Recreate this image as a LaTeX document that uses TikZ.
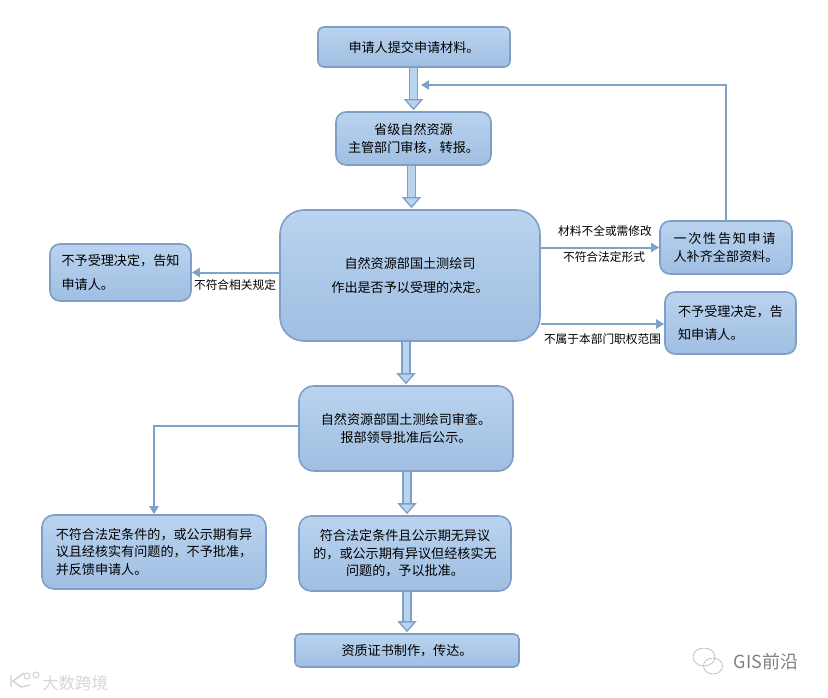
\documentclass[tikz,border=0pt]{standalone}
\usepackage{fontspec}
\setmainfont{Noto Sans CJK SC}
\usetikzlibrary{arrows.meta,positioning,calc}
\definecolor{boxline}{HTML}{7F9FC6}
\definecolor{boxtop}{HTML}{BAD3EF}
\definecolor{boxbot}{HTML}{9FBEE2}
\definecolor{arrline}{HTML}{7EA3CB}
\tikzset{
  flowbox/.style={draw=boxline,line width=1.6pt,top color=boxtop,bottom color=boxbot,inner sep=0pt,
    font=\fontsize{13.1}{17.5}\selectfont,align=center},
  thinarr/.style={arrline,line width=2pt,-{Triangle[length=8pt,width=9pt]}},
  blockarr/.style={line width=1.5pt,draw=boxline,double=boxtop,double distance=6.4pt,
    -{Triangle[length=11pt,width=19pt,fill=boxtop,line width=1.3pt]},shorten >=1pt},
  lbl/.style={font=\fontsize{11.7}{14}\selectfont,inner sep=0pt}
}
\begin{document}
\begin{tikzpicture}[x=1pt,y=-1pt]
\useasboundingbox (0,0) rectangle (828,698);
\node[flowbox,rounded corners=6pt,minimum width=192pt,minimum height=40pt] (apply) at (414,47) {申请人提交申请材料。};
\node[flowbox,rounded corners=10pt,minimum width=155pt,minimum height=53pt] (province) at (413.5,138.5) {省级自然资源\\主管部门审核，转报。};
\node[flowbox,rounded corners=24pt,minimum width=260pt,minimum height=131pt] (accept) at (410,275.5) {自然资源部国土测绘司\\[6pt]作出是否予以受理的决定。};
\node[flowbox,rounded corners=10pt,minimum width=141pt,minimum height=57pt,align=left] (rejectl) at (120.5,272.5) {不予受理决定，告知\\[6pt]申请人。};
\node[flowbox,rounded corners=10pt,minimum width=132pt,minimum height=53pt,align=left] (notify) at (726,247.5) {{\addfontfeature{LetterSpace=13}一次性告知申请}\\人补齐全部资料。};
\node[flowbox,rounded corners=10pt,minimum width=131pt,minimum height=62pt,align=left] (rejectr) at (730.5,323) {不予受理决定，告\\[6pt]知申请人。};
\node[flowbox,rounded corners=15pt,minimum width=214pt,minimum height=85pt] (review) at (406,428.5) {自然资源部国土测绘司审查。\\报部领导批准后公示。};
\node[flowbox,rounded corners=12pt,minimum width=224pt,minimum height=74pt,align=left] (deny) at (154,552) {不符合法定条件的，或公示期有异\\议且经核实有问题的，不予批准，\\并反馈申请人。};
\node[flowbox,rounded corners=12pt,minimum width=212pt,minimum height=75pt] (grant) at (405,553.5) {符合法定条件且公示期无异议\\的，或公示期有异议但经核实无\\问题的，予以批准。};
\node[flowbox,rounded corners=5pt,minimum width=224pt,minimum height=33pt] (cert) at (407,650.5) {资质证书制作，传达。};
\coordinate (back) at (421,85);
\draw[blockarr] (province.north |- apply.south) -- (province.north);
\draw[blockarr] ([xshift=-2pt]province.south) -- ([xshift=-2pt]province.south |- accept.north);
\draw[blockarr] (review.north |- accept.south) -- (review.north);
\draw[blockarr] (cert.north |- review.south) -- (cert.north |- grant.north);
\draw[blockarr] (cert.north |- grant.south) -- (cert.north);
\draw[thinarr] (notify.north) |- (back);
\draw[thinarr] (accept.east |- notify.west) -- (notify.west);
\draw[thinarr] ($(accept.east |- rejectr.west)+(0,1)$) -- ($(rejectr.west)+(0,1)$);
\draw[thinarr] (accept.west |- rejectl.east) -- (rejectl.east);
\draw[thinarr] ($(review.west)+(0,-2.5)$) -| (deny.north);
\node[lbl] (l1) at (605,231) {材料不全或需修改};
\node[lbl] (l2) at (604,257) {不符合法定形式};
\node[lbl] (l3) at (602.5,339) {不属于本部门职权范围};
\node[lbl] (l4) at (235,285) {不符合相关规定};
% watermarks
\node[inner sep=0pt,font=\fontsize{16.5}{18}\selectfont,text=black!16] (mark1) at (75,683) {大数跨境};
\draw[black!18,line width=1.4pt] (11,675) -- (11,687) (24,673) -- (13,681) -- (21,687) -- (30,685);
\draw[black!18,line width=1pt] (27,676) circle (3) (36,675) circle (3);
\node[inner sep=0pt,font=\fontsize{18}{20}\selectfont,text=black!50] (mark2) at (766,662) {GIS前沿};
\draw[black!30,line width=.6pt] (704,657) ellipse (11 and 9) (713,666) ellipse (9.5 and 8);
\end{tikzpicture}
\end{document}
